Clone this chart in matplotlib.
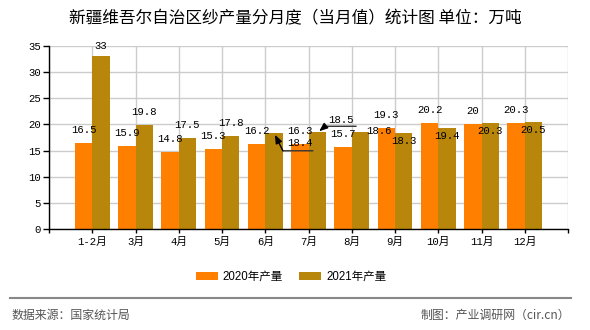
import numpy as np
import matplotlib
matplotlib.use("Agg")
import matplotlib.pyplot as plt
from matplotlib.lines import Line2D
from matplotlib.patches import Patch
from matplotlib.transforms import offset_copy

# ---- data ----
months = ["1-2月", "3月", "4月", "5月", "6月", "7月", "8月", "9月", "10月", "11月", "12月"]
prod_2020 = [16.5, 15.9, 14.8, 15.3, 16.2, 16.3, 15.7, 19.3, 20.2, 20, 20.3]
prod_2021 = [33, 19.8, 17.5, 17.8, 18.4, 18.5, 18.6, 18.3, 19.4, 20.3, 20.5]
series_names = ["2020年产量", "2021年产量"]
yticks = [0, 5, 10, 15, 20, 25, 30, 35]

# ---- styles / label placement (pixels) ----
C20 = "#FF8000"
C21 = "#B8860B"
off_2020 = [(0, 13)] * 11
off_2021 = [(0, 10), (0, 13), (0, 13), (0, 13), (26, -10), (24, 12),
            (19, 1), (0, -8), (0, -8), (0, -8), (0, -8)]
# (bar index, line start, line end, arrow tip) offsets in pixels from gold bar top
leaders = [(4, (9, -18), (39, -18), (1, -2)),
           (5, (8, 6), (39, 6), (2, 1))]

MONO = ["Liberation Mono", "Noto Sans CJK SC"]
CJK = ["Noto Sans CJK SC", "DejaVu Sans"]

fig = plt.figure(figsize=(5.9, 3.3), dpi=100)
ax = fig.add_axes([49 / 590, 101 / 330, 519 / 590, 183 / 330])

x = np.arange(1, len(months) + 1)
w = 0.4
ax.bar(x - w / 2, prod_2020, width=w, color=C20, zorder=2)
ax.bar(x + w / 2, prod_2021, width=w, color=C21, zorder=2)

ax.set_xlim(0, 12)
ax.set_ylim(0, 35)
ax.set_xticks(range(13))
ax.set_xticklabels([""] + months + [""], family=MONO, fontsize=7.7)
ax.set_yticks(yticks)
ax.set_yticklabels([str(t) for t in yticks], family=MONO, fontsize=7.7)
ax.tick_params(axis="y", length=4, width=1, pad=2)
ax.tick_params(axis="x", length=3, width=1, pad=3)
ax.grid(True, color="#cccccc", linewidth=1, zorder=0)
ax.set_axisbelow(True)
for s in ["top", "right"]:
    ax.spines[s].set_visible(False)
for s in ["left", "bottom"]:
    ax.spines[s].set_linewidth(1)
    ax.spines[s].set_color("black")

# data labels
for xi, v, (dx, dy) in zip(x - w / 2, prod_2020, off_2020):
    ax.annotate(f"{v:g}", xy=(xi, v), xytext=(dx, dy), textcoords="offset pixels",
                ha="center", va="center", fontsize=7.7, family=MONO, zorder=5)
for xi, v, (dx, dy) in zip(x + w / 2, prod_2021, off_2021):
    ax.annotate(f"{v:g}", xy=(xi, v), xytext=(dx, dy), textcoords="offset pixels",
                ha="center", va="center", fontsize=7.7, family=MONO, zorder=5)

# leader lines for displaced labels
for i, (sx, sy), (ex, ey), (tx, ty) in leaders:
    xi = x[i] + w / 2
    v = prod_2021[i]
    t_start = offset_copy(ax.transData, fig=fig, x=sx, y=sy, units="dots")
    t_end = offset_copy(ax.transData, fig=fig, x=ex, y=ey, units="dots")
    t_tip = offset_copy(ax.transData, fig=fig, x=tx, y=ty, units="dots")
    ax.annotate("", xy=(xi, v), xycoords=t_end, xytext=(xi, v), textcoords=t_start,
                arrowprops=dict(arrowstyle="-", color="#333333", lw=1, shrinkA=0, shrinkB=0),
                annotation_clip=False)
    ax.annotate("", xy=(xi, v), xycoords=t_tip, xytext=(xi, v), textcoords=t_start,
                arrowprops=dict(arrowstyle="-|>,head_length=0.5,head_width=0.2", color="black",
                                lw=1, shrinkA=0, shrinkB=0),
                annotation_clip=False)

# title
fig.text(0.5, 1 - 18.8 / 330, "新疆维吾尔自治区纱产量分月度（当月值）统计图 单位：万吨",
         ha="center", va="center", fontsize=12, weight="medium", family=CJK, color="black")

# legend
handles = [Patch(facecolor=C20, edgecolor="none"), Patch(facecolor=C21, edgecolor="none")]
fig.legend(handles, series_names, loc="center", bbox_to_anchor=(291 / 590, 1 - 277 / 330),
           ncol=2, frameon=False, prop={"family": ["Liberation Sans", "Noto Sans CJK SC"], "size": 8.3},
           handlelength=1.9, handleheight=0.7, handletextpad=0.45, columnspacing=1.4,
           borderaxespad=0, borderpad=0)

# separator & footer
fig.add_artist(Line2D([10 / 590, 571 / 590], [1 - 297.7 / 330] * 2, color="#888888", lw=1.5))
fig.text(12 / 590, 1 - 315.7 / 330, "数据来源：国家统计局", ha="left", va="center",
         fontsize=8.6, family=CJK, color="#555555")
fig.text(570 / 590, 1 - 315.7 / 330, "制图：产业调研网（cir.cn）", ha="right", va="center",
         fontsize=8.6, family=CJK, color="#555555")

fig.savefig("out.png", dpi=100)
